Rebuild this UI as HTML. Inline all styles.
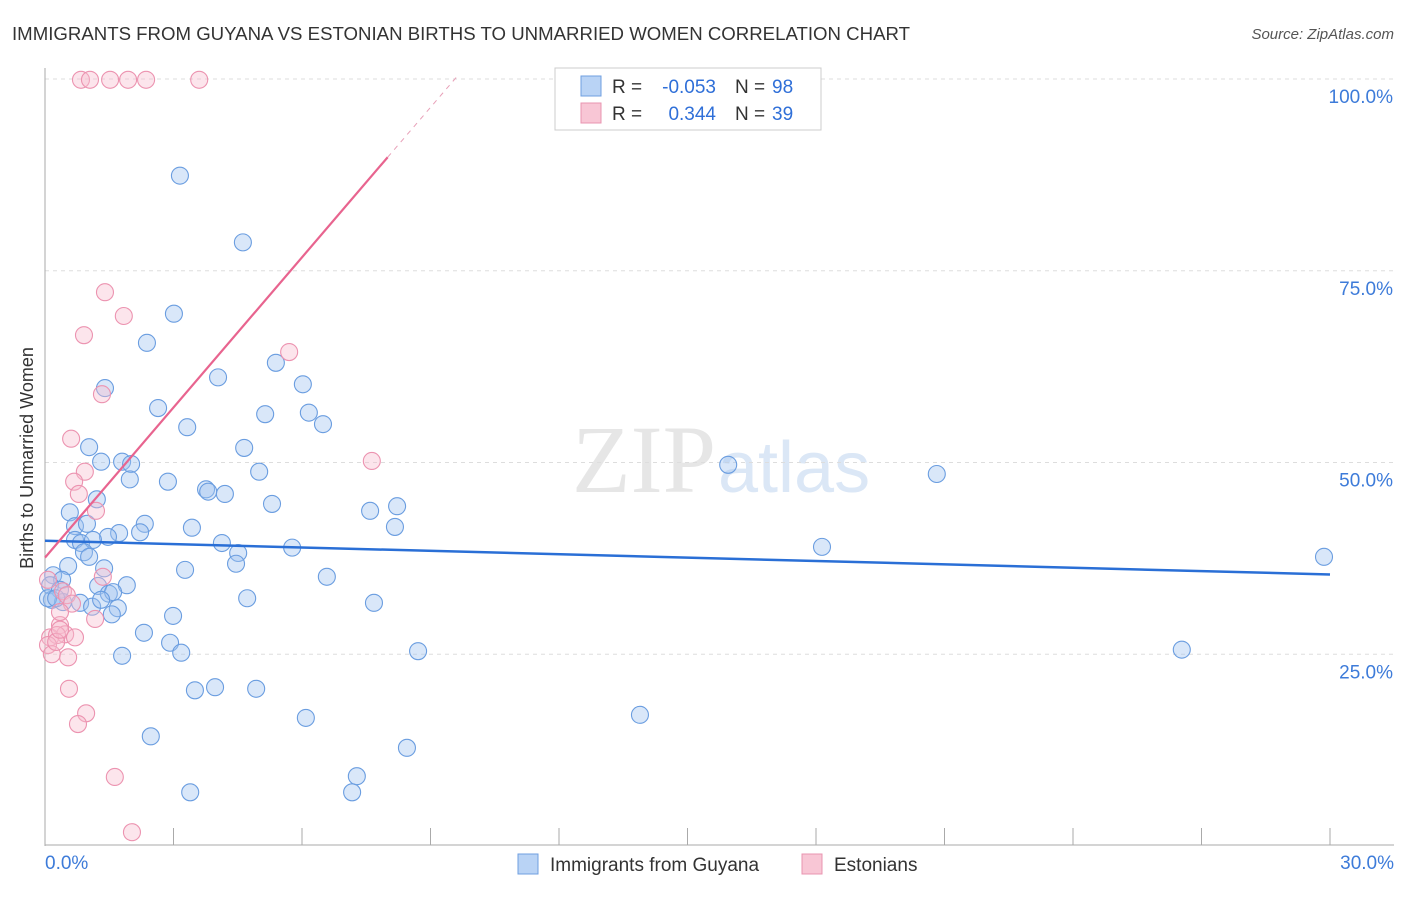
<!DOCTYPE html>
<html><head><meta charset="utf-8"><style>
body{margin:0;background:#fff;font-family:"Liberation Sans",sans-serif;}
</style></head><body>
<svg width="1406" height="892" xmlns="http://www.w3.org/2000/svg">
<text x="12" y="40" font-size="18" fill="#333" textLength="898" lengthAdjust="spacingAndGlyphs">IMMIGRANTS FROM GUYANA VS ESTONIAN BIRTHS TO UNMARRIED WOMEN CORRELATION CHART</text>
<text x="1394" y="39" font-size="15" fill="#555" text-anchor="end" font-style="italic">Source: ZipAtlas.com</text>
<text x="33" y="458" font-size="18" fill="#333" text-anchor="middle" transform="rotate(-90 33 458)">Births to Unmarried Women</text>
<text x="716" y="492" font-size="96" fill="#e6e6e6" text-anchor="end" font-family="Liberation Serif,serif">ZIP</text>
<text x="718" y="492" font-size="72" fill="#dbe7f6">atlas</text>
<g id="grid"></g><g id="axes"></g>
<g id="pts"></g><g id="lines"></g>
<g>
<rect x="555" y="68" width="266" height="62" fill="#fff" stroke="#ccc"/>
<rect x="581" y="76" width="20" height="20" fill="#b9d3f5" stroke="#6f9fe0"/>
<rect x="581" y="103" width="20" height="20" fill="#f8c6d5" stroke="#e994b0"/>
<text x="612" y="93" font-size="19" fill="#333">R =</text>
<text x="716" y="93" font-size="19" fill="#2f6fd8" text-anchor="end">-0.053</text>
<text x="735" y="93" font-size="19" fill="#333">N =</text>
<text x="772" y="93" font-size="19" fill="#2f6fd8">98</text>
<text x="612" y="120" font-size="19" fill="#333">R =</text>
<text x="716" y="120" font-size="19" fill="#2f6fd8" text-anchor="end">0.344</text>
<text x="735" y="120" font-size="19" fill="#333">N =</text>
<text x="772" y="120" font-size="19" fill="#2f6fd8">39</text>
</g>
<g>
<rect x="518" y="854" width="20" height="20" fill="#b9d3f5" stroke="#6f9fe0"/>
<text x="550" y="871" font-size="19" fill="#333">Immigrants from Guyana</text>
<rect x="802" y="854" width="20" height="20" fill="#f8c6d5" stroke="#e994b0"/>
<text x="834" y="871" font-size="19" fill="#333">Estonians</text>
</g>
</svg>
<script>
const yTicks=[100,75,50,25];
const xLabels=["0.0%","30.0%"];
const blueX=[],blueY=[],pinkX=[],pinkY=[];
const bluePx=[[180,176],[243,242],[174,314],[147,343],[218,377],[276,363],[105,388],[303,384],[158,408],[265,414],[309,413],[323,424],[187,427],[89,447],[244,448],[101,462],[122,462],[131,464],[259,472],[130,479],[168,482],[206,489],[208,492],[225,494],[97,499],[272,504],[728,465],[937,474],[370,511],[397,506],[70,512],[75,526],[87,524],[145,524],[192,528],[119,533],[108,537],[140,532],[395,527],[75,540],[81,543],[222,543],[93,540],[84,552],[89,557],[238,553],[236,564],[292,548],[822,547],[1324,557],[53,575],[68,566],[62,580],[104,568],[327,577],[185,570],[50,585],[60,590],[98,586],[127,585],[109,594],[113,592],[52,600],[63,602],[48,598],[56,598],[80,603],[92,607],[118,608],[101,600],[112,614],[247,598],[374,603],[173,616],[144,633],[170,643],[181,653],[122,656],[418,651],[1182,650],[195,690],[215,687],[256,689],[306,718],[640,715],[151,736],[407,748],[357,776],[190,792],[352,792]];
const pinkPx=[[81,80],[90,80],[110,80],[128,80],[146,80],[199,80],[105,292],[124,316],[84,335],[289,352],[102,394],[71,439],[85,472],[372,461],[74,482],[79,494],[96,511],[103,577],[48,580],[63,591],[67,595],[72,604],[95,619],[60,625],[65,634],[50,637],[57,635],[75,637],[48,645],[52,654],[68,657],[69,689],[86,713],[78,724],[115,777],[132,832],[56,642],[60,630],[60,612]];
bluePx.forEach(p=>{blueX.push(+((p[0]-45)/1285*30).toFixed(2));blueY.push(+((846-p[1])/767*100).toFixed(1));});
pinkPx.forEach(p=>{pinkX.push(+((p[0]-45)/1285*30).toFixed(2));pinkY.push(+((846-p[1])/767*100).toFixed(1));});
const blueTrend=[[0,39.8],[30,35.4]];
const pinkTrend=[[0,37.6],[8,89.8],[9.6,100.2]];
const sx=v=>45+v/30*1285, sy=v=>846-v/100*767;
const NS="http://www.w3.org/2000/svg";
function mk(t,a,parent){const e=document.createElementNS(NS,t);for(const k in a)e.setAttribute(k,a[k]);document.getElementById(parent).appendChild(e);return e;}
yTicks.forEach(t=>{
 const l=mk('line',{x1:45,x2:1394,y1:sy(t),y2:sy(t),stroke:'#ddd','stroke-dasharray':'4,4'},'grid');
 
 
 const tx=mk('text',{x:1393,y:sy(t)+24,'font-size':19,fill:'#3d7bd9','text-anchor':'end'},'grid');tx.textContent=t.toFixed(1)+'%';
 
 
});
const ax=mk('line',{x1:45,x2:45,y1:68,y2:846,stroke:'#aaa'},'axes');


const bx=mk('line',{x1:45,x2:1394,y1:845,y2:845,stroke:'#aaa'},'axes');


for(let i=1;i<=10;i++){const t=mk('line',{x1:45+128.5*i,x2:45+128.5*i,y1:828,y2:845,stroke:'#aaa'},'axes');
 
 }
[[45,'start',0],[1394,'end',1]].forEach(a=>{const t=mk('text',{x:a[0],y:869,'font-size':19,fill:'#3d7bd9','text-anchor':a[1]},'axes');t.textContent=xLabels[a[2]];
 
 });
blueX.forEach((x,i)=>{const c=mk('circle',{cx:sx(x),cy:sy(blueY[i]),r:8.5,fill:'rgba(160,195,240,0.4)',stroke:'#6a9de0','stroke-width':1.1},'pts');
 
 });
pinkX.forEach((x,i)=>{const c=mk('circle',{cx:sx(x),cy:sy(pinkY[i]),r:8.5,fill:'rgba(248,190,208,0.4)',stroke:'#ec93b0','stroke-width':1.1},'pts');
 
 });
const bl=mk('line',{x1:sx(blueTrend[0][0]),y1:sy(blueTrend[0][1]),x2:sx(blueTrend[1][0]),y2:sy(blueTrend[1][1]),stroke:'#2a6fd6','stroke-width':2.5},'lines');


const pl=mk('line',{x1:sx(pinkTrend[0][0]),y1:sy(pinkTrend[0][1]),x2:sx(pinkTrend[1][0]),y2:sy(pinkTrend[1][1]),stroke:'#e8648f','stroke-width':2.2},'lines');


const pd=mk('line',{x1:sx(pinkTrend[1][0]),y1:sy(pinkTrend[1][1]),x2:sx(pinkTrend[2][0]),y2:sy(pinkTrend[2][1]),stroke:'#e8a0b8','stroke-width':1,'stroke-dasharray':'5,5'},'lines');


</script>
</body></html>
